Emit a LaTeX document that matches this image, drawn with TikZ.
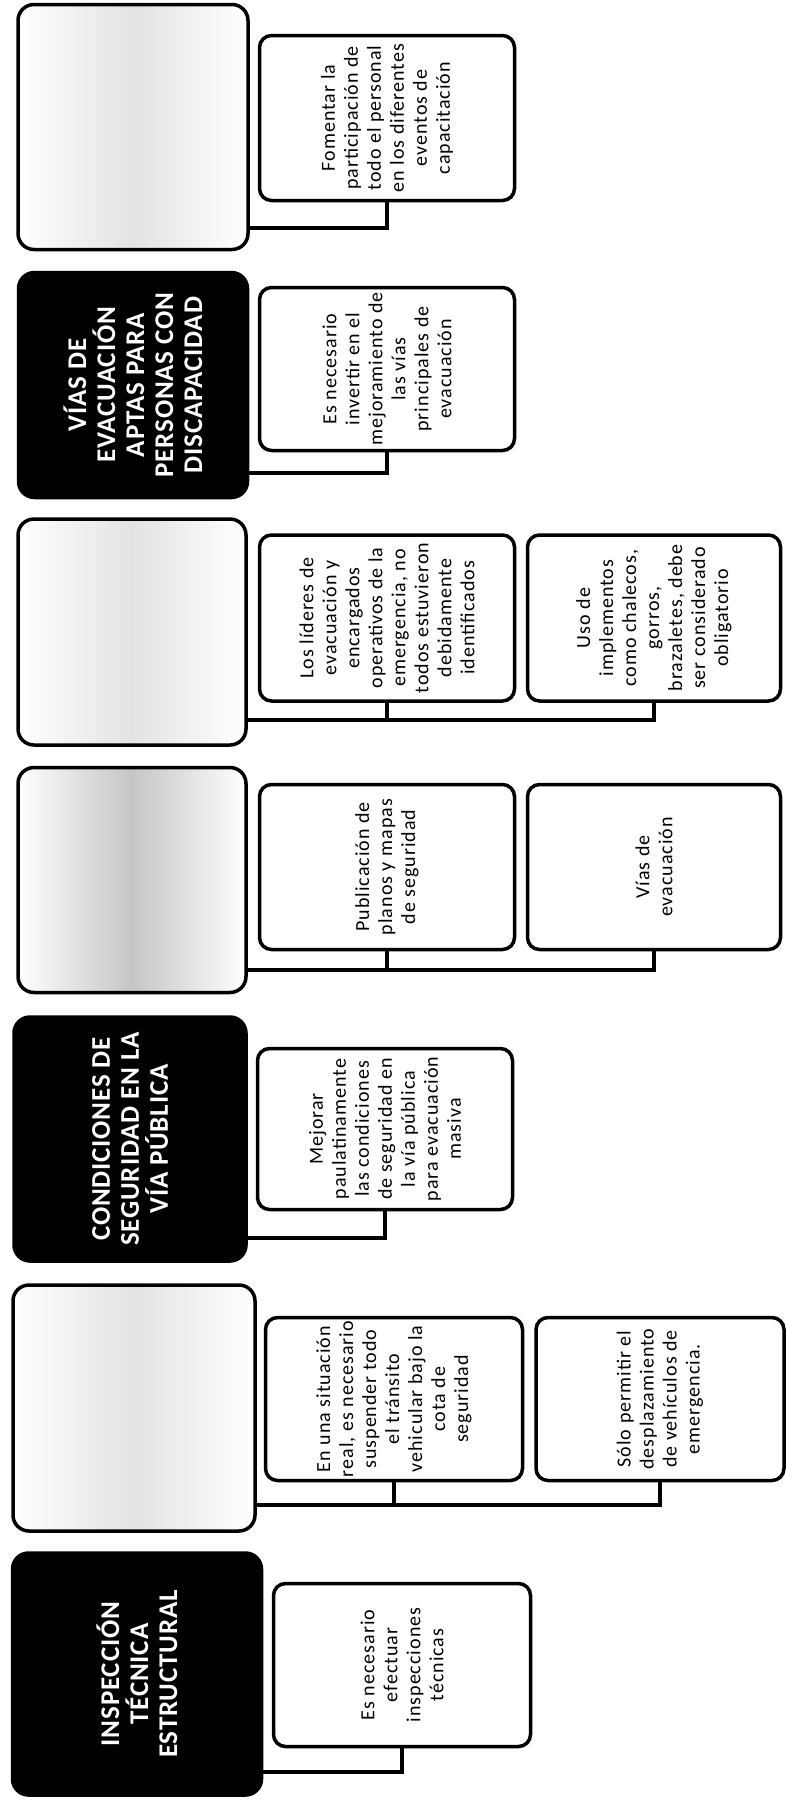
\documentclass[tikz,border=0pt]{standalone}
\usepackage{fontspec}
\setmainfont{Carlito}
\newfontfamily\notefont[LetterSpace=5]{Carlito}
\newfontfamily\headfont[LetterSpace=3]{Carlito}
\usepackage{tikz}

\begin{document}
\begin{tikzpicture}[x=1pt, y=-1pt,
    head/.style={rectangle, draw, line width=3.5pt, rounded corners=16pt, inner sep=0pt},
    dark/.style={head, fill=black, text=white, rotate=90, align=center,
                 font=\headfont\fontsize{27}{29}\selectfont\bfseries},
    faded/.style={head, left color=white, right color=white, middle color=gray!22},
    note/.style={rectangle, draw, line width=3.5pt, rounded corners=12pt, fill=white,
                 rotate=90, align=center, inner sep=2pt, font=\notefont\fontsize{20}{23}\selectfont},
    link/.style={line width=3.5pt}]
    \useasboundingbox (0,0) rectangle (785,1800);
    \node[faded, minimum width=230pt, minimum height=245pt] (h1) at (133,127) {};
    \node[dark, minimum width=225pt, minimum height=229pt] (h2) at (133,385) {V\'IAS DE\\EVACUACI\'ON\\APTAS PARA\\PERSONAS CON\\DISCAPACIDAD};
    \node[faded, minimum width=228pt, minimum height=226pt] (h3) at (132,632) {};
    \node[faded, middle color=gray!45, minimum width=228pt, minimum height=225pt] (h4) at (132,880) {};
    \node[dark, minimum width=244pt, minimum height=232pt] (h5) at (130,1139) {CONDICIONES DE\\SEGURIDAD EN LA\\V\'IA P\'UBLICA};
    \node[faded, minimum width=242pt, minimum height=246pt] (h6) at (134,1408) {};
    \node[dark, minimum width=242pt, minimum height=249pt] (h7) at (137,1674) {INSPECCI\'ON\\T\'ECNICA\\ESTRUCTURAL};
    \node[note, minimum width=165pt, minimum height=255pt] (n1) at (387,118) {Fomentar la\\participaci\'on de\\todo el personal\\en los diferentes\\eventos de\\capacitaci\'on};
    \node[note, minimum width=163pt, minimum height=255pt] (n2) at (387,369) {Es necesario\\invertir en el\\mejoramiento de\\las v\'ias\\principales de\\evacuaci\'on};
    \node[note, minimum width=166pt, minimum height=255pt] (n3a) at (387,618) {Los l\'ideres de\\evacuaci\'on y\\encargados\\operativos de la\\emergencia, no\\todos estuvieron\\debidamente\\identificados};
    \node[note, minimum width=166pt, minimum height=253pt] (n3b) at (654,618) {Uso de\\implementos\\como chalecos,\\gorros,\\brazaletes, debe\\ser considerado\\obligatorio};
    \node[note, minimum width=165pt, minimum height=255pt] (n4a) at (387,867) {Publicaci\'on de\\planos y mapas\\de seguridad};
    \node[note, minimum width=165pt, minimum height=253pt] (n4b) at (654,867) {V\'ias de\\evacuaci\'on};
    \node[note, minimum width=161pt, minimum height=255pt] (n5) at (385,1129) {Mejorar\\paulatinamente\\las condiciones\\de seguridad en\\la v\'ia p\'ublica\\para evacuaci\'on\\masiva};
    \node[note, minimum width=163pt, minimum height=257pt] (n6a) at (394,1399) {En una situaci\'on\\real, es necesario\\suspender todo\\el tr\'ansito\\vehicular bajo la\\cota de\\seguridad};
    \node[note, minimum width=163pt, minimum height=248pt] (n6b) at (660,1399) {S\'olo permitir el\\desplazamiento\\de veh\'iculos de\\emergencia.};
    \node[note, minimum width=163pt, minimum height=257pt] (n7) at (402,1665) {Es necesario\\efectuar\\inspecciones\\t\'ecnicas};
    \coordinate (j1) at (0,228);
    \coordinate (j2) at (0,473);
    \coordinate (j3) at (0,720);
    \coordinate (j4) at (0,970);
    \coordinate (j5) at (0,1238);
    \coordinate (j6) at (0,1505);
    \coordinate (j7) at (0,1772);
    \draw[link] (h1.east |- j1) -| (n1.west);
    \draw[link] (h2.south |- j2) -| (n2.west);
    \draw[link] (h3.east |- j3) -| (n3b.west);
    \draw[link] (n3a.west) -- (n3a.west |- j3);
    \draw[link] (h4.east |- j4) -| (n4b.west);
    \draw[link] (n4a.west) -- (n4a.west |- j4);
    \draw[link] (h5.south |- j5) -| (n5.west);
    \draw[link] (h6.east |- j6) -| (n6b.west);
    \draw[link] (n6a.west) -- (n6a.west |- j6);
    \draw[link] (h7.south |- j7) -| (n7.west);
\end{tikzpicture}
\end{document}
